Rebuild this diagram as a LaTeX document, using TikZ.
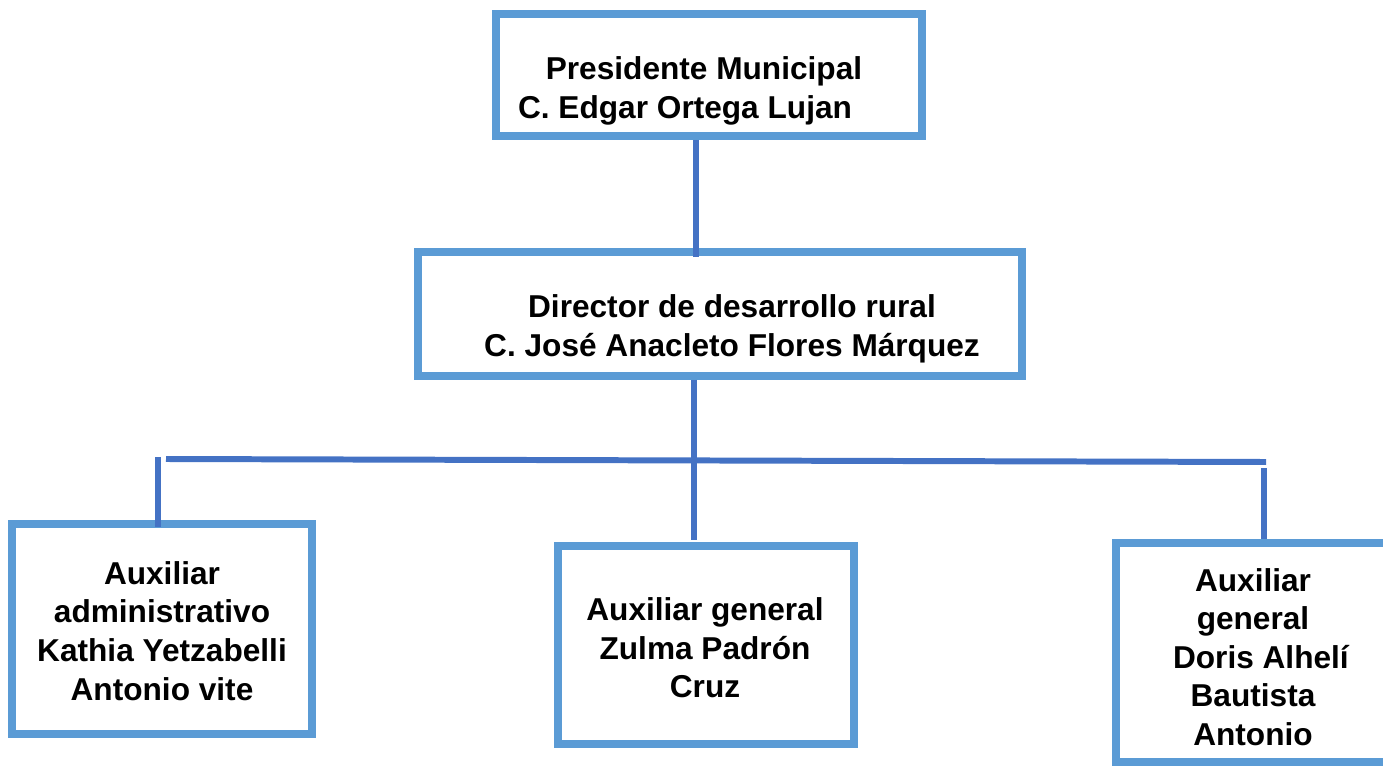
\documentclass[tikz,border=0pt]{standalone}
\usepackage{fontspec}
\setmainfont{Liberation Sans}
\definecolor{boxblue}{HTML}{5B9BD5}
\definecolor{lineblue}{HTML}{4472C4}
\tikzset{box/.style={draw=boxblue, line width=4.5pt, inner sep=0pt},
  link/.style={draw=lineblue, line width=3.4pt},
  txt/.style={align=center, font=\fontsize{18}{22}\selectfont\bfseries}}

\begin{document}
\begin{tikzpicture}[x=0.02cm, y=-0.02cm]
    \useasboundingbox (0,0) rectangle (1383,767);
    % boxes
    \node[box, minimum width=8.52cm, minimum height=2.44cm] (pres) at (709, 75) {};
    \node[box, minimum width=12.08cm, minimum height=2.48cm] (dir) at (720, 314) {};
    \node[box, minimum width=6cm, minimum height=4.2cm] (auxA) at (162, 629) {};
    \node[box, minimum width=5.92cm, minimum height=3.96cm] (auxG) at (706, 645) {};
    \node[box, minimum width=5.48cm, minimum height=4.38cm] (auxD) at (1253, 652.5) {};
    % texts
    \node[txt] (presT) at (704, 91) {Presidente Municipal\\C. Edgar Ortega Lujan\hspace*{1.2em}};
    \node[txt] (dirT) at (732, 329) {Director de desarrollo rural\\C. José Anacleto Flores Márquez};
    \node[txt] (auxAT) at (162, 631) {Auxiliar\\administrativo\\Kathia Yetzabelli\\Antonio vite};
    \node[txt] (auxGT) at (705, 648) {Auxiliar general\\Zulma Padrón\\Cruz};
    \node[txt] (auxDT) at (1253, 657) {Auxiliar\\general\\\hspace*{0.5em}Doris Alhelí\\Bautista\\Antonio};
    % connectors
    \coordinate (legP) at (696, 257);
    \coordinate (legG) at (694, 540);
    \coordinate (busL) at (166, 459);
    \coordinate (busR) at (1266, 462);
    \coordinate (legL) at (158, 457);
    \coordinate (legR) at (1264, 468);
    \draw[link] (pres.south -| legP) -- (legP);
    \draw[link] (dir.south -| legG) -- (legG);
    \draw[link] (busL) -- (busR);
    \draw[link, shorten >=-4pt] (legL) -- (legL |- auxA.north);
    \draw[link] (legR) -- (legR |- auxD.north);
\end{tikzpicture}
\end{document}
